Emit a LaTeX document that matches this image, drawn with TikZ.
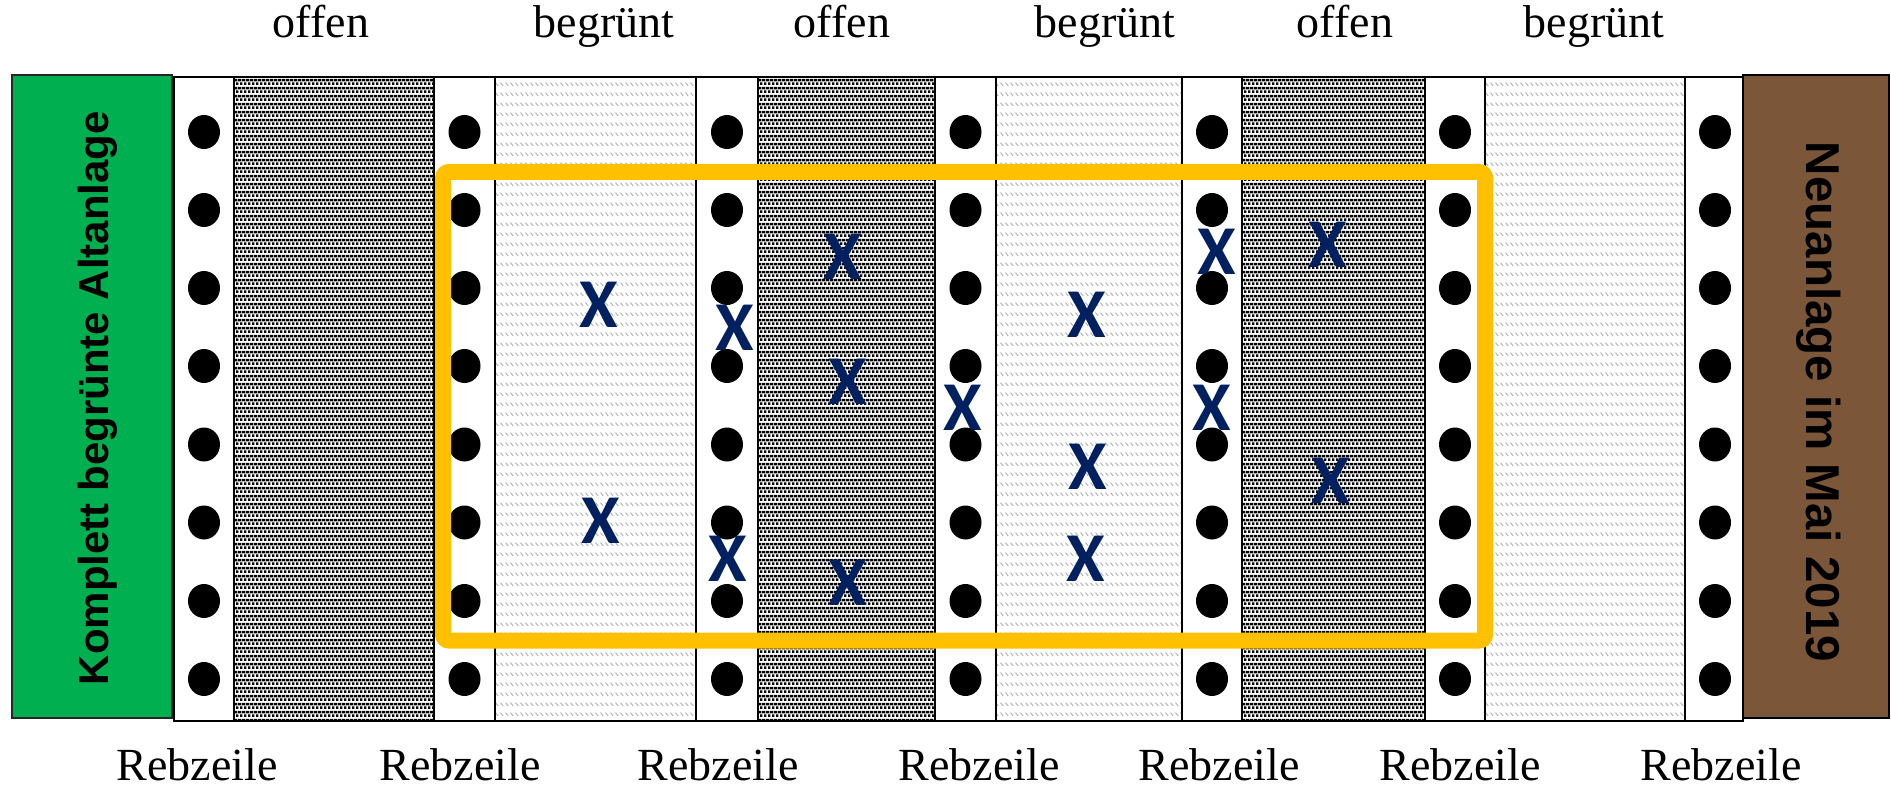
\documentclass[tikz,border=0pt]{standalone}
\usepackage{fontspec}
\setmainfont{Liberation Serif}
\newfontfamily\sidefont{Liberation Sans}
\newfontfamily\markfont{Carlito}
\usetikzlibrary{patterns,patterns.meta}

\definecolor{goldframe}{RGB}{255,192,0}
\definecolor{navymark}{RGB}{0,32,96}
\definecolor{oldgreen}{RGB}{0,176,80}
\definecolor{newbrown}{RGB}{123,86,56}
\definecolor{hatchgray}{RGB}{180,180,180}

% bare soil between the rows: fine staggered black squares
\tikzdeclarepattern{
  name=openground,
  type=colored,
  bottom left={(0pt,0pt)},
  top right={(4pt,8pt)},
  tile size={(4pt,8pt)},
  code={
    \fill[black] (0pt,0pt) rectangle (3pt,3pt);
    \fill[black] (2pt,4pt) rectangle (4pt,7pt);
    \fill[black] (0pt,4pt) rectangle (1pt,7pt);
  }
}

% greened alley: rows of short light-grey diagonal strokes
\tikzdeclarepattern{
  name=greenground,
  type=colored,
  bottom left={(0pt,0pt)},
  top right={(5pt,10pt)},
  tile size={(5pt,10pt)},
  code={
    \draw[hatchgray, line width=1.1pt] (0.6pt,7pt) -- (3.8pt,3.4pt);
  }
}

\begin{document}
\begin{tikzpicture}[x=1pt,y=-1pt,
  toplabel/.style={font=\fontsize{46}{46}\selectfont, anchor=base, inner sep=0pt},
  sidelabel/.style={font=\sidefont\bfseries, anchor=base, inner sep=0pt},
  markx/.style={font=\markfont\bfseries\fontsize{70}{70}\selectfont, text=navymark, inner sep=0pt},
  sepline/.style={line width=2pt, draw=black}
]
\useasboundingbox (0,0) rectangle (1891,789);

% alleys
\foreach \xa/\xb in {234/434, 758/935, 1242/1425}
  \fill[pattern=openground] (\xa,77) rectangle (\xb,721);
\foreach \xa/\xb in {495/696, 996/1182, 1485/1685}
  \fill[pattern=greenground] (\xa,77) rectangle (\xb,721);

% column borders and outer frame
\foreach \xs in {234,434,495,696,758,935,996,1182,1242,1425,1485,1685}
  \draw[sepline] (\xs,77) -- (\xs,721);
\draw[line width=2.5pt] (174,77) rectangle (1743,721);

% neighbouring plots
\draw[fill=oldgreen, draw=black!85, line width=1.5pt] (12,75) rectangle (172,718);
\draw[fill=newbrown, draw=black, line width=1.5pt] (1743,75) rectangle (1889,718);
\node[sidelabel, font=\sidefont\bfseries\fontsize{42}{42}\selectfont, rotate=90] (oldplot) at (108,398) {Komplett begrünte Altanlage};
\node[sidelabel, font=\sidefont\bfseries\fontsize{47.5}{47.5}\selectfont, rotate=-90] (newplot) at (1806,402) {Neuanlage im Mai 2019};

% vines in the rows
\foreach \cx in {204,464.5,727,965.5,1212,1455,1715}
  \foreach \cy in {132,210,288,366,444.5,522.5,601,679}
    \fill[black] (\cx,\cy) ellipse [x radius=16, y radius=17];

% sampled area
\draw[goldframe, line width=16pt, rounded corners=6pt] (443,172) rectangle (1485,640.5);

% sampling points
\node[markx] (mark1) at (599,305) {X};
\node[markx] (mark2) at (601,521) {X};
\node[markx] (mark3) at (735,328) {X};
\node[markx] (mark4) at (728,559) {X};
\node[markx] (mark5) at (843,257) {X};
\node[markx] (mark6) at (848,382) {X};
\node[markx] (mark7) at (848,583) {X};
\node[markx] (mark8) at (963,408) {X};
\node[markx] (mark9) at (1087,315) {X};
\node[markx] (mark10) at (1088,467) {X};
\node[markx] (mark11) at (1086,559) {X};
\node[markx] (mark12) at (1217,252) {X};
\node[markx] (mark13) at (1212,408) {X};
\node[markx] (mark14) at (1328,245) {X};
\node[markx] (mark15) at (1331,481) {X};

% alley labels
\node[toplabel] (alley1) at (321,38) {offen};
\node[toplabel] (alley2) at (604,38) {begrünt};
\node[toplabel] (alley3) at (842,38) {offen};
\node[toplabel] (alley4) at (1105,38) {begrünt};
\node[toplabel] (alley5) at (1345,38) {offen};
\node[toplabel] (alley6) at (1594,38) {begrünt};

% row labels
\foreach \rx [count=\ri] in {197,460,718,979,1219,1460,1721}
  \node[toplabel] (row\ri) at (\rx,780) {Rebzeile};
\end{tikzpicture}
\end{document}
